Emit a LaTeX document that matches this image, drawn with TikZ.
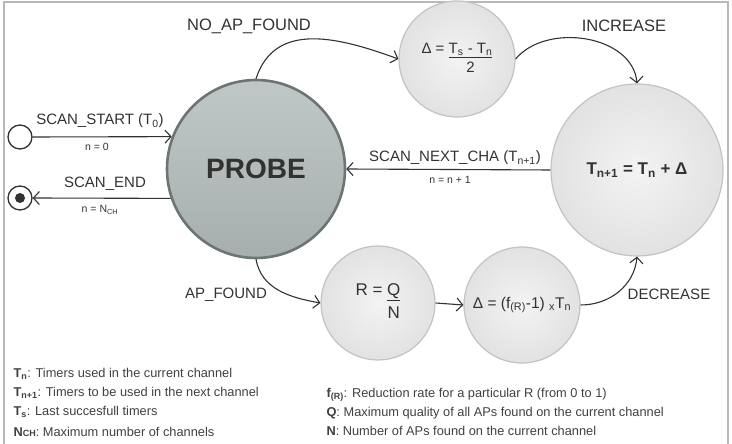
\documentclass[tikz,border=0pt]{standalone}
\usepackage{fontspec}
\setmainfont{Liberation Sans}
\usepackage{tikz}
\usetikzlibrary{arrows.meta, positioning, calc}

\definecolor{probetop}{RGB}{192,199,199}
\definecolor{probebottom}{RGB}{166,174,174}
\definecolor{probeedge}{RGB}{108,116,116}
\definecolor{lightin}{RGB}{243,243,243}
\definecolor{lightout}{RGB}{226,226,226}
\definecolor{lightedge}{RGB}{195,195,195}
\definecolor{ink}{RGB}{50,50,50}

\newcommand{\sub}[1]{\textsubscript{#1}}

\begin{document}
\begin{tikzpicture}[x=1pt, y=1pt, every node/.style={text=ink, font=\fontsize{15}{18}\selectfont},
    state/.style={circle, draw=lightedge, line width=1.2pt, inner color=lightin, outer color=lightout, inner sep=0pt},
    probestate/.style={circle, draw=probeedge, line width=2.6pt, top color=probetop, bottom color=probebottom, inner sep=0pt},
    pseudo/.style={circle, draw=ink, line width=1.3pt, fill=white, minimum size=24pt, inner sep=0pt},
    trans/.style={draw=ink, line width=1.1pt, -{Straight Barb[length=6pt, width=13pt, line width=1.1pt]}},
    cond/.style={font=\fontsize{10.5}{12}\selectfont},
    toplabel/.style={font=\fontsize{16.5}{19}\selectfont},
    legend/.style={anchor=west, text=black!75, font=\fontsize{12.8}{15}\selectfont}]
    \useasboundingbox (0,0) rectangle (732,444);
    \draw[gray!55, line width=1.6pt] (4,-5) rectangle (728,442);

    \node[probestate, minimum size=178pt] (probe) at (256,275) {\fontsize{28}{30}\selectfont\bfseries PROBE};
    \node[state, minimum size=116pt] (halve) at (457,385)
        {\fontsize{15}{18}\selectfont Δ = \begin{tabular}[t]{@{}c@{}}\underline{T\sub{s} - T\sub{n}}\\[1pt] 2\end{tabular}};
    \node[state, minimum size=172pt] (next) at (637,274)
        {\fontsize{17}{20}\selectfont\bfseries T\sub{n+1} = T\sub{n} + Δ};
    \node[state, minimum size=114pt] (ratio) at (378,141)
        {\fontsize{17}{20}\selectfont R = \begin{tabular}[t]{@{}c@{}}\underline{Q}\\[3pt] N\end{tabular}};
    \node[state, minimum size=116pt] (reduce) at (522,139)
        {\fontsize{15.5}{18}\selectfont Δ = (f\sub{(R)}-1) \sub{x}T\sub{n}};
    \node[pseudo] (start) at (20,307) {};
    \node[pseudo, path picture={\fill[ink] (path picture bounding box.center) circle (5pt);}] (stop) at (20,246) {};

    \draw[trans] (start.east) -- (probe.159);
    \draw[trans] (probe.199) -- (stop.east);
    \draw[trans] (next.west) -- (probe.east);
    \draw[trans] (probe.north) to[out=72, in=160, looseness=1.1] (halve.west);
    \draw[trans] (halve.east) to[out=50, in=95] (next.north);
    \draw[trans] (probe.south) to[out=-80, in=170] (ratio.west);
    \draw[trans] (ratio.east) -- (reduce.west);
    \draw[trans] (reduce.east) to[out=0, in=-95] (next.south);

    \node (lstart) at (100,323) {SCAN\_START (T\sub{0})};
    \node[cond] (cstart) at (97,297) {n = 0};
    \node (lend) at (105,260) {SCAN\_END};
    \node[cond] (cend) at (100,234) {n = N\sub{CH}};
    \node (lnext) at (455,286) {SCAN\_NEXT\_CHA (T\sub{n+1})};
    \node[cond] (cnext) at (450,264) {n = n + 1};
    \node[toplabel] (lnoap) at (249,418) {NO\_AP\_FOUND};
    \node[toplabel] (lincr) at (624,418) {INCREASE};
    \node (lap) at (226,149) {AP\_FOUND};
    \node (ldecr) at (669,150) {DECREASE};

    \node[legend] (tn) at (10,70) {\textbf{T\sub{n}}: Timers used in the current channel};
    \node[legend] (tnn) at (10,51) {\textbf{T\sub{n+1}}: Timers to be used in the next channel};
    \node[legend] (ts) at (10,32) {\textbf{T\sub{s}}: Last succesfull timers};
    \node[legend] (nch) at (10,12) {\textbf{N{\fontsize{9}{10}\selectfont CH}}: Maximum number of channels};
    \node[legend] (fr) at (323,49) {\textbf{f\sub{(R)}}: Reduction rate for a particular R (from 0 to 1)};
    \node[legend] (q) at (323,31) {\textbf{Q}: Maximum quality of all APs found on the current channel};
    \node[legend] (n) at (323,13) {\textbf{N}: Number of APs found on the current channel};
\end{tikzpicture}
\end{document}
